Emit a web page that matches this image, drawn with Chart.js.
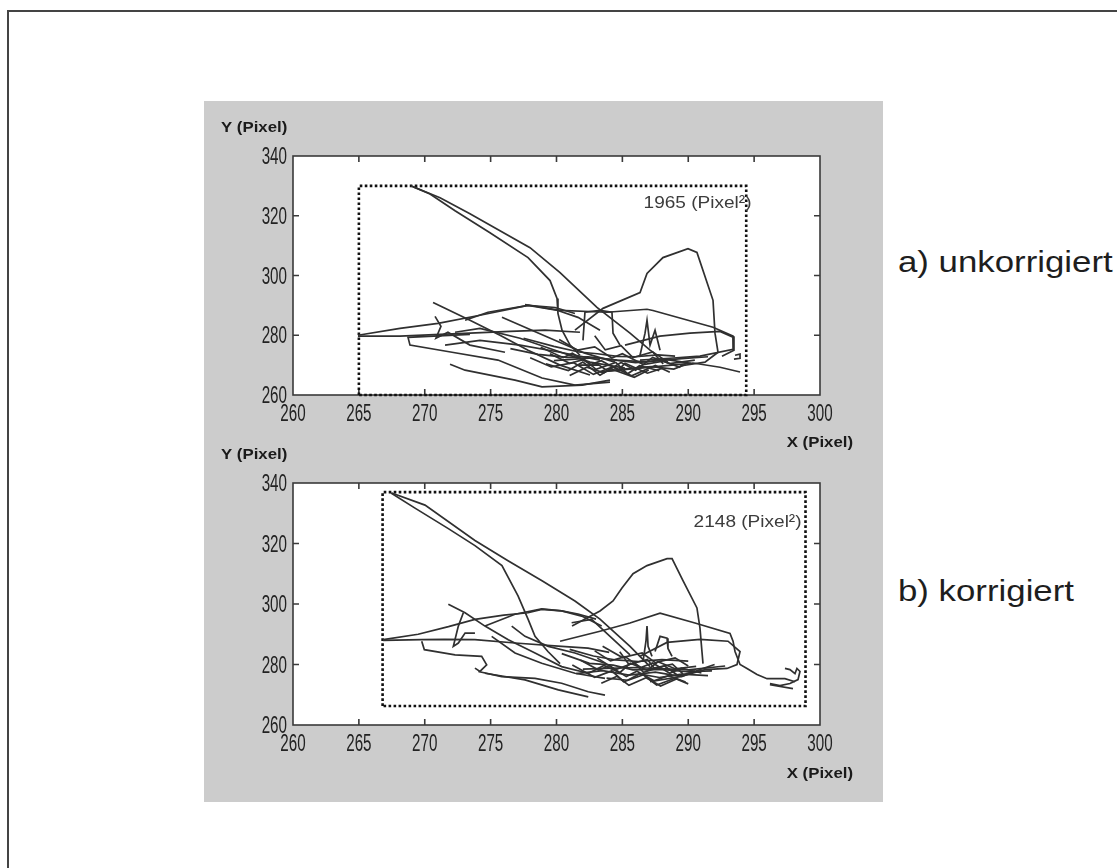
<!DOCTYPE html>
<html lang="de">
<head>
<meta charset="utf-8">
<title>Trajektorien unkorrigiert / korrigiert</title>
<script src="https://cdn.jsdelivr.net/npm/chart.js@4.4.1/dist/chart.umd.min.js"></script>
<style>
  html, body { margin: 0; padding: 0; background: #fff; }
  body { width: 1117px; height: 868px; position: relative; overflow: hidden; font-family: 'Liberation Sans', Arial, sans-serif; }
  #rahmen { position: absolute; left: 7px; top: 10px; width: 1130px; height: 880px; border-left: 2px solid #444; border-top: 2px solid #444; }
  #panel { position: absolute; left: 204px; top: 101px; width: 679px; height: 701px; background: #cccccc; }
  canvas { position: absolute; }
  #oben { left: 204px; top: 101px; }
  #unten { left: 204px; top: 440px; }
  .beschriftung { position: absolute; left: 898px; font-size: 30px; line-height: 30px; color: #1e1e1e; white-space: nowrap; transform: scaleX(1.16); transform-origin: 0 0; }
</style>
</head>
<body>
<div id="rahmen"></div>
<div id="panel"></div>
<canvas id="oben" width="679" height="350"></canvas>
<canvas id="unten" width="679" height="362"></canvas>
<div class="beschriftung" style="top:247px">a) unkorrigiert</div>
<div class="beschriftung" style="top:576px">b) korrigiert</div>
<script>
const xTicks = [260, 265, 270, 275, 280, 285, 290, 295, 300];
const yTicks = [260, 280, 300, 320, 340];

// umschließendes Rechteck (gepunktet) und Flächenangabe
const rahmenA_x = [265, 265, 294.4, 294.4, 265];
const rahmenA_y = [260, 330, 330, 260, 260];
const flaecheA = '1965 (Pixel²)';
const flaecheA_pos = [294.8, 322.7];

const rahmenB_x = [266.8, 266.8, 298.9, 298.9, 266.8];
const rahmenB_y = [266.3, 337, 337, 266.3, 266.3];
const flaecheB = '2148 (Pixel²)';
const flaecheB_pos = [298.6, 325.4];

// a) unkorrigierte Spuren, je Spur [x, y] in Pixel
const spurenA = [
  [[268.96,330],[270.40,327.3],[272.30,321.7],[274.95,314.3],[277.84,306],[279.51,298.3],[280.04,292.3],[280.11,287.3],[280.42,281.7],[281.03,276.7],[281.78,273.3]],
  [[269.11,329.7],[271.16,326],[273.43,320.7],[275.71,315],[277.99,309.3],[280.27,301],[283.07,289.3],[285.58,280.7],[287.10,275],[288.46,271]],
  [[281.40,281.7],[283.53,289],[286.34,294.3],[286.87,300.7],[288.08,306],[289.98,309],[290.66,307.7],[291.88,291.7],[292.03,280.7],[292.26,274.3],[291.27,271],[289.37,269.7]],
  [[277.61,290.3],[280.27,288.3],[283.83,287.7],[286.87,288.7],[287.32,288.3],[291.88,282.7],[293.40,279.7],[293.47,275],[292.56,273]],
  [[285.20,276.7],[287.85,279.7],[290.13,280.7],[292.41,281.3],[293.40,279.3],[293.40,275.3],[290.89,273],[288.61,272.3],[286.34,271.7]],
  [[283.30,267.7],[286.34,269],[290.36,270.7],[292.41,269.3],[293.93,267.7]],
  [[293.55,273.3],[293.93,273.7],[293.93,272.3],[293.47,272]],
  [[264.93,280],[268.12,282.3],[271.01,284],[274.19,286.7],[277.84,290],[279.89,289.3],[281.40,287.3]],
  [[264.93,279.7],[268.12,279.7],[271.16,280.3],[273.43,280.7],[276.47,281.3],[279.13,281.7],[281.78,281]],
  [[273.43,280.3],[268.73,279.3],[268.88,276.7],[272.07,274.3],[275.56,271.7],[278.90,265.7],[281.40,263.3],[284.06,264.3]],
  [[271.92,270.3],[273.06,268.3],[276.85,265],[278.90,262.7],[281.94,263.3],[284.06,265]],
  [[270.63,291],[271.54,289],[273.43,285],[275.71,280],[277.84,275],[280.27,270],[282.54,266.7]],
  [[273.06,285],[274.80,287.7],[277.84,290],[280.11,288.3],[281.63,286],[283.30,281.7]],
  [[275.86,286],[279.35,279.3],[282.16,274],[284.44,271]],
  [[270.78,286.3],[271.23,283],[270.85,279],[271.76,281],[273.43,276.7],[276.09,274.3]],
  [[271.54,276.7],[274.19,278.3],[277.23,276.7],[280.27,274.3],[283.30,271.7]],
  [[272.30,281],[274.19,282.3],[277.23,279],[279.89,275],[282.54,271],[285.20,269]],
  [[278.8,276],[280.5,272.5],[281.2,274],[282.6,270.2],[283.4,271.5],[284.7,268.4],[285.2,270.6],[286.9,267.3],[288.0,268.9]],
  [[279.5,273.8],[281.0,270.6],[282.1,271.9],[283.0,268.6],[284.5,270.9],[285.4,267.1],[286.3,269.8],[287.8,268.1]],
  [[280.2,278.6],[281.6,275.0],[282.9,276.1],[284.2,272.4],[285.0,273.8],[286.6,270.2],[288.1,271.3],[289.4,269.2]],
  [[281.0,266.5],[282.3,269.3],[283.6,267.4],[284.9,270.9],[286.0,268.3],[287.3,272.6],[288.6,270.5],[290.5,271.7]],
  [[279.2,270.4],[280.9,268.2],[282.0,271.0],[283.3,266.6],[284.1,268.8],[285.9,265.9],[287.0,268.4]],
  [[277.5,279],[279.8,276.3],[281.7,274.4],[283.1,273.8],[284.6,272.9],[286.0,272.8],[287.7,273.4],[289.0,273]],
  [[281.5,270],[283.2,270.1],[283.9,268],[285.6,268.9],[287.2,269.5],[288.9,268.7],[289.8,270.2]],
  [[278,272.5],[279.6,269.4],[281.3,270.8],[282.8,266.9],[284.3,269.5],[285.7,266.4],[287.5,269.9],[288.6,267.6]],
  [[276.5,275.5],[278.6,273.6],[280.8,272.6],[282.4,272.8],[284.6,271.7],[286.8,271.1],[288.3,271.9],[290.2,270.6]],
  [[282.9,279.8],[283.7,275.1],[284.9,276.5],[285.8,272.5],[287.3,274.4],[288.1,270.4]],
  [[286.34,273.3],[286.72,280.7],[286.87,285],[287.10,276.7],[287.48,281.7],[287.86,275]],
  [[282.01,278.3],[282.16,287.7],[283.30,288.3],[284.21,287.7],[284.29,280.7],[284.82,276.7]],
  [[279.8,271.5],[283,272.5],[286,270.8],[289.5,272.2],[291.5,272.8]]
];

// b) korrigierte Spuren
const spurenB = [
  [[267.44,336.7],[269.26,331.7],[271.76,325],[273.81,319.3],[275.86,312.7],[277.08,302.7],[277.84,295],[278.37,289.3],[279.35,284.3],[280.27,280.3]],
  [[267.49,336.7],[270.02,332.7],[273.81,321],[276.32,314.3],[278.90,307.7],[281.40,301],[283.30,295],[285.58,286],[287.10,279.3]],
  [[281.18,292.7],[283.30,297.7],[284.29,301],[284.97,305.3],[285.81,310],[286.87,312.7],[288.39,315],[288.77,315],[289.60,307.7],[290.66,298.7],[290.89,292],[291.04,284.3],[291.12,280.3]],
  [[280.27,287.7],[283.30,291],[285.58,293.7],[287.86,297],[290.51,293.7],[293.17,290.3],[293.40,287.7],[293.55,284.3],[293.93,280],[294.46,278.7],[295.22,276.7],[295.98,275.3],[297.34,275.3],[298.10,274.3]],
  [[286.34,282.7],[288.39,287.3],[290.89,288.3],[293.02,287.7],[293.93,284.3],[293.70,280],[292.94,278.7],[291.27,278.3],[289.37,276],[287.10,274.3]],
  [[297.34,278.7],[297.72,278.3],[298.10,277],[298.25,278.7],[298.48,277.7],[298.33,275],[297.72,273.7],[296.96,273],[296.20,273.7]],
  [[296.20,273.3],[297.95,272]],
  [[286.57,281],[286.79,287.7],[286.87,292.7],[286.95,286],[287.25,282.7]],
  [[287.48,284.3],[287.86,289.3],[288.39,288.7],[288.46,285.3],[288.77,282.7]],
  [[266.85,288.2],[269.5,290],[271.8,292.5],[273.81,294.9],[276,296.3],[277.84,297.1],[278.88,298.2],[280.39,297.7],[281.63,296.7],[283,295]],
  [[266.85,288],[269.77,288.2],[271.5,288.3],[273.81,288.2],[276.85,287.1],[280.39,286],[282.39,285.4],[284,284]],
  [[269.77,287.7],[269.97,284.9],[272.30,283.2],[274.32,282.7],[274.70,279.9],[274.19,277.7],[273.81,278.8]],
  [[274.07,277.7],[275.84,276],[278.37,275.4],[280.39,273.8],[282.41,271],[283.68,269.9]],
  [[274.57,277.1],[277.61,274.9],[280.14,271.6],[282.41,269.3]],
  [[271.79,299.9],[273.06,297.1],[274.57,292.7],[276.34,288.2],[278.37,283.8],[280.39,279.3],[282.41,277.1]],
  [[274.57,292.7],[276.85,296.6],[278.88,298.4],[280.39,297.7],[281.91,296],[283.43,292.7]],
  [[272.93,297.1],[272.55,292.7],[272.17,286],[272.55,287.1],[273.06,290.4],[273.81,290.4]],
  [[276.60,292.7],[277.61,289.3],[279.38,286],[281.40,283.8],[283.68,280.4]],
  [[275.08,289.3],[276.85,283.8],[278.88,280.4],[281.40,277.1],[283.68,275.4]],
  [[281.8,281.5],[283.2,278.2],[284.0,279.6],[285.3,276.0],[286.1,277.8],[287.4,274.6],[288.5,276.3],[289.8,274.2]],
  [[282.4,277.0],[283.6,279.7],[284.8,277.3],[285.6,280.4],[286.9,278.1],[287.7,280.9],[289.0,278.6],[290.6,279.4]],
  [[282.9,284.5],[284.1,281.2],[285.2,282.6],[286.4,279.0],[287.3,280.5],[288.6,277.1],[289.5,278.8],[291.0,277.2]],
  [[283.4,273.8],[284.6,276.1],[285.5,273.1],[286.8,275.6],[287.9,272.9],[289.1,275.2],[290.0,273.6]],
  [[281.5,277],[283.5,278],[285.5,276.5],[287.5,277.5],[289.5,276],[291,278.5],[292,280]],
  [[283.5,286],[285,282.3],[286.5,283.8],[287.5,280.6],[289,282.2],[290,279.5]],
  [[281,285],[282.8,282.8],[284.5,281.5],[286.2,281],[288,281.6],[290,281.1]],
  [[283.8,275.5],[285.4,274.8],[286.3,276.9],[287.8,275.7],[289.5,276.8],[291.5,276.3]],
  [[281.2,279.8],[282.9,275.8],[284.2,277.9],[285.1,274.3],[286.6,276.6],[287.6,273.2],[289.1,275.6]],
  [[283.1,282.1],[284.5,278.3],[285.9,280.6],[286.6,277.4],[288.2,279.5],[289.3,276.1],[290.5,277.9]],
  [[280.4,283.6],[282.5,280.4],[284.3,279.8],[285.8,278.2],[287.9,278.4],[289.9,277.6],[291.8,277.9]],
  [[284.8,284.2],[285.5,280],[286.9,281.7],[287.4,278.8],[288.8,280.1],[289.6,276.9]],
  [[281.15,293.8],[282.67,294.9],[285.58,283.2]],
  [[282,278.5],[286,279],[290,278.2],[292.8,279.5]]
];

function schreibe(ctx, text, x, y, align, font, farbe, sx) {
  ctx.save();
  ctx.translate(x, y);
  ctx.scale(sx, 1);
  ctx.font = font;
  ctx.fillStyle = farbe;
  ctx.textAlign = align;
  ctx.textBaseline = 'alphabetic';
  ctx.fillText(text, 0, 0);
  ctx.restore();
}

// Achsenbox mit nach innen zeigenden Ticks, wie im MATLAB-Plot
const matlabStil = {
  id: 'matlabStil',
  beforeDraw(chart) {
    const { ctx, chartArea: a } = chart;
    ctx.save();
    ctx.fillStyle = '#ffffff';
    ctx.fillRect(a.left, a.top, a.width, a.height);
    ctx.restore();
  },
  beforeDatasetsDraw(chart) {
    const { ctx, chartArea: a, scales } = chart;
    ctx.save();
    ctx.strokeStyle = '#3a3a3a';
    ctx.lineWidth = 1.6;
    ctx.strokeRect(a.left, a.top, a.width, a.height);
    ctx.beginPath();
    xTicks.slice(1, -1).forEach(v => {
      const px = scales.x.getPixelForValue(v);
      ctx.moveTo(px, a.bottom); ctx.lineTo(px, a.bottom - 6);
      ctx.moveTo(px, a.top); ctx.lineTo(px, a.top + 6);
    });
    yTicks.slice(1, -1).forEach(v => {
      const py = scales.y.getPixelForValue(v);
      ctx.moveTo(a.left, py); ctx.lineTo(a.left + 6, py);
      ctx.moveTo(a.right, py); ctx.lineTo(a.right - 6, py);
    });
    ctx.stroke();
    ctx.restore();
  },
  afterDraw(chart, args, opts) {
    const { ctx, chartArea: a, scales } = chart;
    // schmale Tick-Beschriftung (MATLAB-Schrift), Positionen aus den Skalen
    const tickFont = "23px 'Liberation Sans', Arial, sans-serif";
    scales.x.ticks.forEach(t => {
      schreibe(ctx, String(t.value), scales.x.getPixelForValue(t.value), a.bottom + 26, 'center', tickFont, '#222', 0.66);
    });
    scales.y.ticks.forEach(t => {
      schreibe(ctx, String(t.value), a.left - 6, scales.y.getPixelForValue(t.value) + 8, 'right', tickFont, '#222', 0.66);
    });
    const titelFont = "bold 15px 'Liberation Sans', Arial, sans-serif";
    schreibe(ctx, 'Y (Pixel)', opts.yTitel[0], opts.yTitel[1], 'left', titelFont, '#1a1a1a', 1.12);
    schreibe(ctx, 'X (Pixel)', opts.xTitel[0], opts.xTitel[1], 'right', titelFont, '#1a1a1a', 1.12);
    const fx = scales.x.getPixelForValue(opts.flaechePos[0]);
    const fy = scales.y.getPixelForValue(opts.flaechePos[1]);
    schreibe(ctx, opts.flaeche, fx, fy, 'right', "17px 'Liberation Sans', Arial, sans-serif", '#3c3c3c', 1.12);
  }
};

function zeichne(id, spuren, boxX, boxY, extras) {
  const datensaetze = spuren.map(spur => ({
    data: spur.map(([x, y]) => ({ x, y })),
    showLine: true,
    borderColor: '#303030',
    borderWidth: 1.7,
    pointRadius: 0
  }));
  datensaetze.push({
    data: boxX.map((x, i) => ({ x, y: boxY[i] })),
    showLine: true,
    borderColor: '#111111',
    borderWidth: 2.6,
    borderDash: [2.6, 2.4],
    pointRadius: 0,
    clip: false
  });

  return new Chart(document.getElementById(id), {
    type: 'scatter',
    data: { datasets: datensaetze },
    options: {
      responsive: false,
      animation: false,
      devicePixelRatio: 1,
      layout: { padding: { left: 0, right: 63, top: extras.oben, bottom: 0 } },
      plugins: {
        legend: { display: false },
        tooltip: { enabled: false },
        matlabStil: extras
      },
      scales: {
        x: {
          type: 'linear', min: 260, max: 300,
          afterBuildTicks: s => { s.ticks = xTicks.map(v => ({ value: v })); },
          afterFit: s => { s.height = extras.xHoehe; },
          grid: { display: false, drawTicks: false },
          border: { display: false },
          ticks: { display: false }
        },
        y: {
          type: 'linear', min: 260, max: 340,
          afterBuildTicks: s => { s.ticks = yTicks.map(v => ({ value: v })); },
          afterFit: s => { s.width = 89; },
          grid: { display: false, drawTicks: false },
          border: { display: false },
          ticks: { display: false }
        }
      }
    },
    plugins: [matlabStil]
  });
}

zeichne('oben', spurenA, rahmenA_x, rahmenA_y, {
  oben: 55, xHoehe: 56,
  yTitel: [17, 31], xTitel: [649, 346],
  flaeche: flaecheA, flaechePos: flaecheA_pos
});

zeichne('unten', spurenB, rahmenB_x, rahmenB_y, {
  oben: 43, xHoehe: 77,
  yTitel: [17, 19], xTitel: [649, 338],
  flaeche: flaecheB, flaechePos: flaecheB_pos
});
</script>
</body>
</html>
